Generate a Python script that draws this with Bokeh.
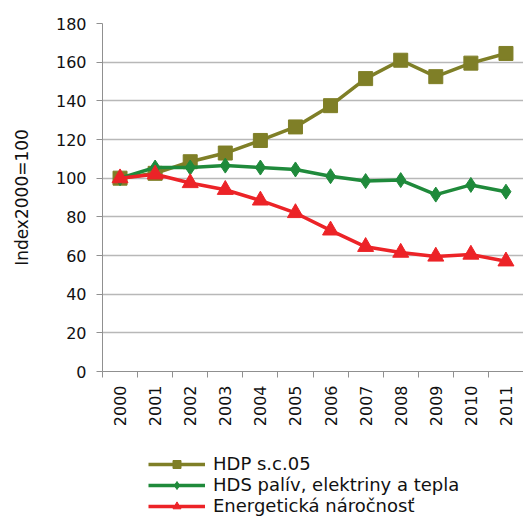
import math
from bokeh.plotting import figure
from bokeh.layouts import column
from bokeh.models import Range1d, FixedTicker, Legend, LegendItem
from bokeh.embed import file_html
from bokeh.resources import INLINE

years = ["2000", "2001", "2002", "2003", "2004", "2005", "2006", "2007", "2008", "2009", "2010", "2011"]
hdp = [100, 102.5, 108.5, 113, 119.5, 126.5, 137.5, 151.5, 161, 152.5, 159.5, 164.5]
hds = [100, 105.5, 105.5, 106.5, 105.5, 104.5, 101, 98.5, 99, 91.5, 96.5, 93]
ener = [100, 102, 97.5, 94, 88.5, 82, 73, 64.5, 61.5, 59.5, 60.5, 57]
y_ticks = [0, 20, 40, 60, 80, 100, 120, 140, 160, 180]

names = ["HDP s.c.05", "HDS palív, elektriny a tepla", "Energetická náročnosť"]
colors = ["#7f7f27", "#1f8a3b", "#ec2327"]
markers = ["square", "diamond", "triangle"]
sizes = [14, 15, 16]

FONT = "DejaVu Sans"

x = [i + 0.5 for i in range(len(years))]

p = figure(width=523, height=454, output_backend="svg", toolbar_location=None,
           x_range=Range1d(0, 12), y_range=Range1d(0, 180),
           min_border_left=102, min_border_right=0, min_border_top=23,
           min_border_bottom=83)
p.outline_line_color = None
p.background_fill_color = "white"
p.border_fill_color = "white"

# axes
p.xaxis.ticker = FixedTicker(ticks=x, minor_ticks=list(range(0, 13)))
p.xaxis.major_label_overrides = {xx: y for xx, y in zip(x, years)}
p.xaxis.major_tick_out = 0
p.xaxis.major_tick_in = 0
p.xaxis.minor_tick_out = 6
p.xaxis.minor_tick_in = 0
p.xaxis.minor_tick_line_color = "#909090"
p.xaxis.axis_line_color = "#909090"
p.xaxis.major_label_orientation = math.pi / 2
p.xaxis.major_label_text_font = FONT
p.xaxis.major_label_text_font_size = "16px"
p.xaxis.major_label_text_color = "#111111"
p.xaxis.major_label_standoff = 8

p.yaxis.ticker = FixedTicker(ticks=y_ticks)
p.yaxis.minor_tick_line_color = None
p.yaxis.major_tick_out = 6
p.yaxis.major_tick_in = 0
p.yaxis.major_tick_line_color = "#909090"
p.yaxis.axis_line_color = "#909090"
p.yaxis.major_label_text_font = FONT
p.yaxis.major_label_text_font_size = "16px"
p.yaxis.major_label_text_color = "#111111"
p.yaxis.major_label_standoff = 10
p.yaxis.axis_label = "Index2000=100"
p.yaxis.axis_label_text_font = FONT
p.yaxis.axis_label_text_font_size = "17px"
p.yaxis.axis_label_text_font_style = "normal"
p.yaxis.axis_label_text_color = "#111111"
p.yaxis.axis_label_standoff = 21

p.xgrid.grid_line_color = None
p.ygrid.ticker = FixedTicker(ticks=y_ticks)
p.ygrid.grid_line_color = "#b8b8b8"
p.ygrid.grid_line_width = 1.3

# legend figure below the chart (its frame is aligned with the chart's frame)
q = figure(width=523, height=63, output_backend="svg", toolbar_location=None,
           x_range=Range1d(0, 1), y_range=Range1d(0, 1),
           min_border_left=0, min_border_right=0, min_border_top=0, min_border_bottom=0)
q.axis.visible = False
q.grid.visible = False
q.outline_line_color = None

nan = float("nan")
items = []
for vals, name, col, mk, sz in zip([hdp, hds, ener], names, colors, markers, sizes):
    p.line(x, vals, line_color=col, line_width=3.5)
    p.scatter(x, vals, marker=mk, size=sz, fill_color=col, line_color=col)
    l1 = q.line([nan], [nan], line_color=col, line_width=3.5)
    l2 = q.scatter([nan], [nan], marker=mk, size=sz, fill_color=col, line_color=col)
    items.append(LegendItem(label=name, renderers=[l1, l2]))

legend = Legend(items=items, location=(46, 1), padding=0, margin=0,
                glyph_width=57, glyph_height=20, label_height=20, spacing=0,
                label_standoff=8, label_text_font=FONT, label_text_font_size="18px",
                label_text_color="#111111", border_line_color=None,
                background_fill_alpha=0)
q.add_layout(legend, "center")

layout = column(p, q, spacing=0)
open("out.html", "w").write(file_html(layout, INLINE))
